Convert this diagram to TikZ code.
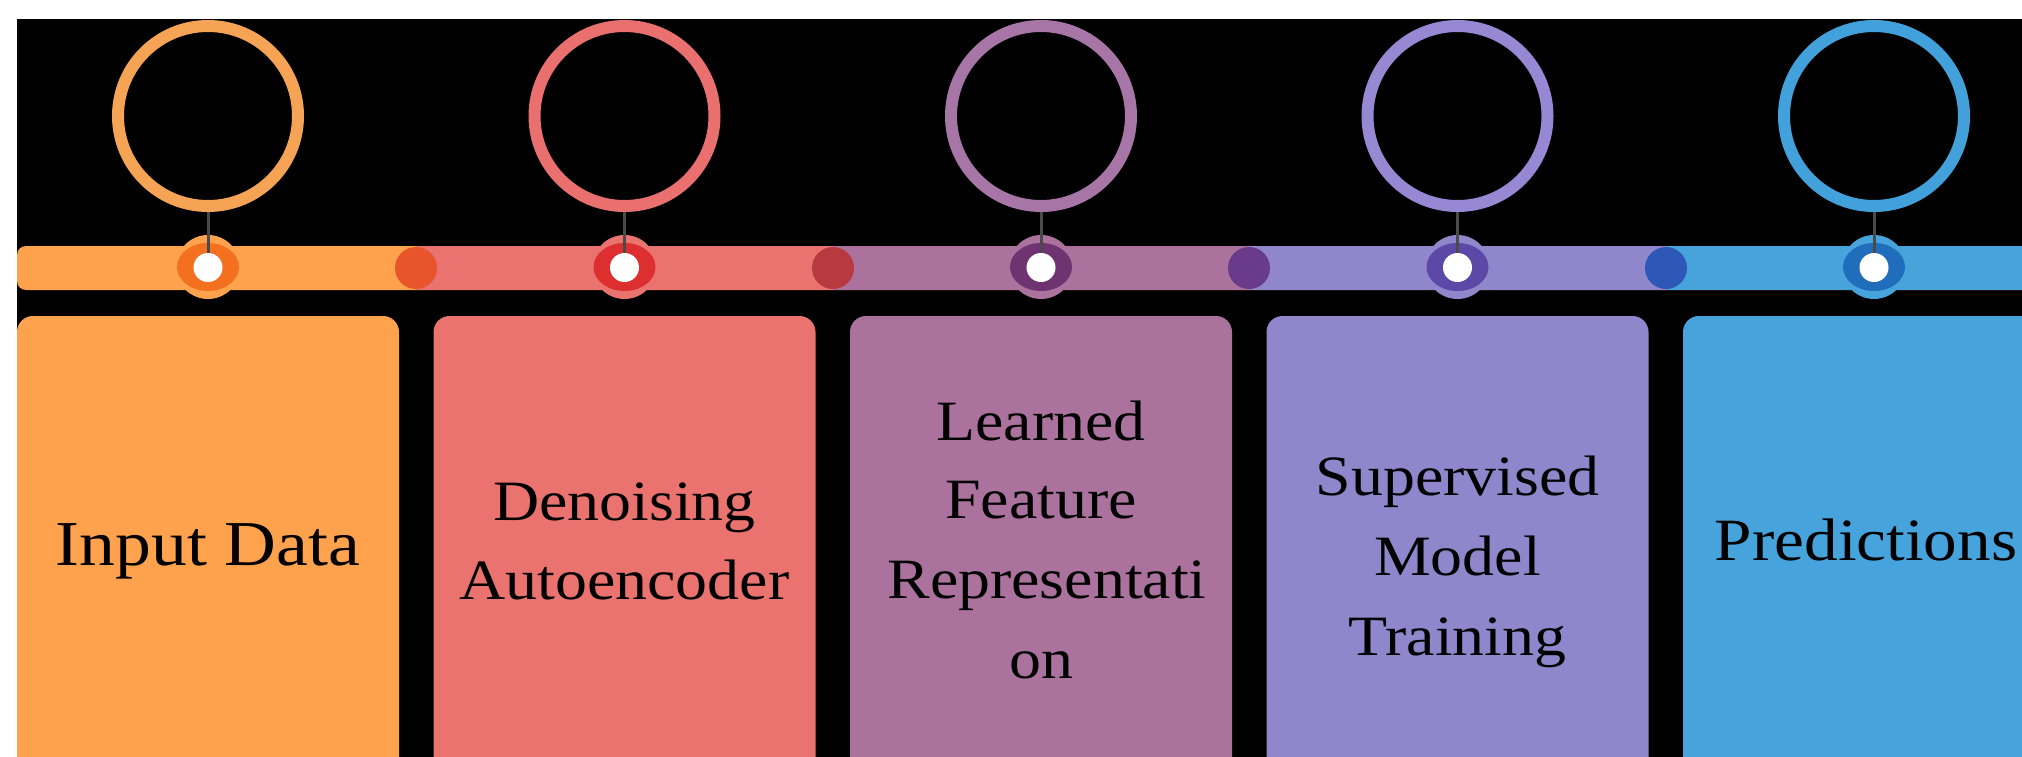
\documentclass[tikz,border=0pt]{standalone}
\usepackage{fontspec}
\setmainfont{Liberation Serif}[FakeStretch=1.12]
\usetikzlibrary{shapes.geometric}

% palette: bar/card, ring, marker core, joint dot
\definecolor{barA}{HTML}{FFA24E}\definecolor{ringA}{HTML}{F5A354}\definecolor{coreA}{HTML}{F2701E}\definecolor{jointA}{HTML}{E9552B}
\definecolor{barB}{HTML}{EA726F}\definecolor{ringB}{HTML}{E9706E}\definecolor{coreB}{HTML}{DD2E30}\definecolor{jointB}{HTML}{B8393F}
\definecolor{barC}{HTML}{AC729E}\definecolor{ringC}{HTML}{A775A6}\definecolor{coreC}{HTML}{6F3371}\definecolor{jointC}{HTML}{6A3B8A}
\definecolor{barD}{HTML}{8F86CB}\definecolor{ringD}{HTML}{9688D3}\definecolor{coreD}{HTML}{5C48A6}\definecolor{jointD}{HTML}{2F57B7}
\definecolor{barE}{HTML}{46A3DB}\definecolor{ringE}{HTML}{42A0DA}\definecolor{coreE}{HTML}{1F6DBB}
\definecolor{stemgray}{HTML}{4A4A4A}

\begin{document}
\begin{tikzpicture}[x=1pt,y=-1pt,
  ring/.style={circle, draw, line width=12pt, minimum size=180pt, inner sep=0pt},
  halo/.style={circle, minimum size=64pt, inner sep=0pt},
  core/.style={ellipse, minimum width=62pt, minimum height=48pt, inner sep=0pt},
  pin/.style={circle, fill=white, minimum size=29pt, inner sep=0pt},
  joint/.style={circle, minimum size=42pt, inner sep=0pt},
  stem/.style={draw=stemgray, line width=3pt},
  card/.style={rectangle, rounded corners=16pt, minimum width=382pt, minimum height=460pt, inner sep=0pt},
  steptext/.style={anchor=base, inner sep=0pt, text=black},
  big/.style={font=\fontsize{64pt}{80pt}\selectfont},
  mid/.style={font=\fontsize{60pt}{80pt}\selectfont},
  std/.style={font=\fontsize{57pt}{80pt}\selectfont}]
\useasboundingbox (0,0) rectangle (2022,757);
\fill[white] (0,0) rectangle (2022,757);
\fill[black] (17,19) rectangle (2022,757);

% timeline bar, one colour band per stage
\fill[barA, rounded corners=9pt] (17,246) rectangle (2040,290);
\fill[barB] (416,246) rectangle (2040,290);
\fill[barC] (833,246) rectangle (2040,290);
\fill[barD] (1249,246) rectangle (2040,290);
\fill[barE] (1666,246) rectangle (2040,290);

% joints between the bands
\node[joint, fill=jointA] (j1) at (416,268) {};
\node[joint, fill=jointB] (j2) at (833,268) {};
\node[joint, fill=jointC] (j3) at (1249,268) {};
\node[joint, fill=jointD] (j4) at (1666,268) {};

% rings above the bar
\node[ring, draw=ringA] (r1) at (208,116) {};
\node[ring, draw=ringB] (r2) at (624.5,116) {};
\node[ring, draw=ringC] (r3) at (1041,116) {};
\node[ring, draw=ringD] (r4) at (1457.5,116) {};
\node[ring, draw=ringE] (r5) at (1874,116) {};

% markers on the bar
\node[halo, fill=barA] (h1) at (208,267) {};
\node[halo, fill=barB] (h2) at (624.5,267) {};
\node[halo, fill=barC] (h3) at (1041,267) {};
\node[halo, fill=barD] (h4) at (1457.5,267) {};
\node[halo, fill=barE] (h5) at (1874,267) {};
\node[core, fill=coreA] (k1) at (208,267) {};
\node[core, fill=coreB] (k2) at (624.5,267) {};
\node[core, fill=coreC] (k3) at (1041,267) {};
\node[core, fill=coreD] (k4) at (1457.5,267) {};
\node[core, fill=coreE] (k5) at (1874,267) {};
\node[pin] (p1) at (208,267.5) {};
\node[pin] (p2) at (624.5,267.5) {};
\node[pin] (p3) at (1041,267.5) {};
\node[pin] (p4) at (1457.5,267.5) {};
\node[pin] (p5) at (1874,267.5) {};

% stems from rings to markers
\draw[stem] (r1) -- (p1);
\draw[stem] (r2) -- (p2);
\draw[stem] (r3) -- (p3);
\draw[stem] (r4) -- (p4);
\draw[stem] (r5) -- (p5);

% cards
\node[card, fill=barA] (b1) at (208,546) {};
\node[card, fill=barB] (b2) at (624.5,546) {};
\node[card, fill=barC] (b3) at (1041,546) {};
\node[card, fill=barD] (b4) at (1457.5,546) {};
\node[card, fill=barE] (b5) at (1874,546) {};

% card texts
\node[steptext, big] (t1) at (208,565) {Input Data};
\node[steptext, std] (t2a) at (624.5,520) {Denoising};
\node[steptext, std] (t2b) at (624.5,599) {Autoencoder};
\node[steptext, std] (t3a) at (1041,440) {Learned};
\node[steptext, std] (t3b) at (1041,518) {Feature};
\node[steptext, std] (t3c) at (1047,598) {Representati};
\node[steptext, std] (t3d) at (1041,678) {on};
\node[steptext, std] (t4a) at (1457.5,495) {Supervised};
\node[steptext, std] (t4b) at (1457.5,575) {Model};
\node[steptext, std] (t4c) at (1457.5,655) {Training};
\node[steptext, mid] (t5) at (1866,560) {Predictions};
\end{tikzpicture}
\end{document}
